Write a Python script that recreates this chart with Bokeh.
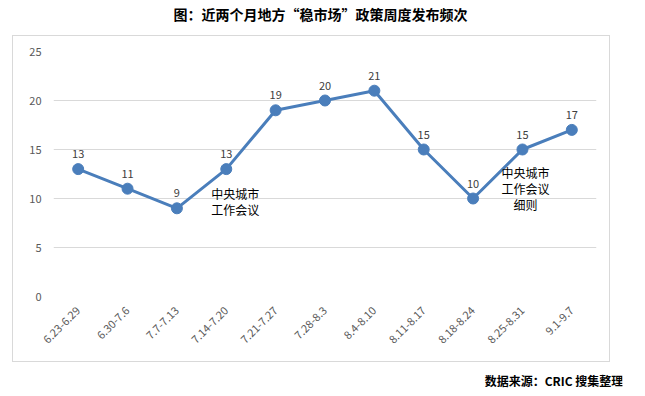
from bokeh.plotting import figure
from bokeh.models import ColumnDataSource, FactorRange, Range1d
from bokeh.layouts import column
from bokeh.core.properties import value
from bokeh.embed import file_html
from bokeh.resources import INLINE
import math

# ---- data ----
categories = ["6.23-6.29", "6.30-7.6", "7.7-7.13", "7.14-7.20", "7.21-7.27",
              "7.28-8.3", "8.4-8.10", "8.11-8.17", "8.18-8.24", "8.25-8.31", "9.1-9.7"]
counts = [13, 11, 9, 13, 19, 20, 21, 15, 10, 15, 17]
y_ticks = [0, 5, 10, 15, 20, 25]

note_cats = ["7.14-7.20", "8.25-8.31"]
note_texts = ["中央城市\n工作会议", "中央城市\n工作会议\n细则"]
note_y = [11.4, 13.55]
note_dx = [9, 3]

title_text = "图：近两个月地方“稳市场”政策周度发布频次"
source_text = "数据来源：CRIC 搜集整理"

FONT = "Noto Sans CJK SC"
BLUE = "#4a7ebb"
GRID = "#d9d9d9"

# ---- title figure ----
t = figure(width=629, height=35, x_range=Range1d(0, 629), y_range=Range1d(0, 35),
           toolbar_location=None, output_backend="svg", min_border=0,
           x_axis_location=None, y_axis_location=None)
t.grid.visible = False
t.outline_line_color = None
t.text(x=[137], y=[22], text=[title_text], text_font=value(FONT),
       text_font_size="14px", text_font_style="bold", text_align="left",
       text_baseline="middle", text_color="#000000")

# ---- main chart ----
src = ColumnDataSource(dict(cat=categories, v=counts, lab=[str(c) for c in counts]))
nsrc = ColumnDataSource(dict(cat=note_cats, y=note_y, t=note_texts, dx=note_dx))

p = figure(width=598, height=327, x_range=FactorRange(*categories, range_padding=0),
           y_range=Range1d(0, 25), toolbar_location=None, output_backend="svg",
           min_border_left=40, min_border_right=15, min_border_top=15, min_border_bottom=67,
           margin=(0, 0, 0, 4), styles={"border": "1px solid #d9d9d9"})
p.outline_line_color = None
p.background_fill_color = "white"

p.yaxis.ticker = y_ticks
p.yaxis.axis_line_color = None
p.yaxis.major_tick_line_color = None
p.yaxis.minor_tick_line_color = None
p.yaxis.major_label_standoff = 6
p.yaxis.major_label_text_font = FONT
p.yaxis.major_label_text_font_size = "11px"
p.yaxis.major_label_text_color = "#595959"

p.xaxis.axis_line_color = None
p.xaxis.major_tick_line_color = None
p.xaxis.major_label_orientation = math.pi / 4
p.xaxis.major_label_standoff = 6
p.xaxis.major_label_text_font = FONT
p.xaxis.major_label_text_font_size = "11px"
p.xaxis.major_label_text_color = "#595959"

p.xgrid.grid_line_color = None
p.ygrid.grid_line_color = GRID
p.ygrid.grid_line_width = 1

p.line("cat", "v", source=src, line_color=BLUE, line_width=3)
p.scatter("cat", "v", source=src, size=11, fill_color=BLUE, line_color=BLUE)
p.text("cat", "v", text="lab", source=src, text_font=value(FONT), text_font_size="11px",
       text_color="#404040", text_align="center", text_baseline="bottom", y_offset=-11)
p.text("cat", "y", text="t", source=nsrc, text_font=value(FONT), text_font_size="12px",
       text_color="#000000", text_align="center", text_baseline="top", x_offset="dx",
       text_line_height=0.95)

# ---- footer figure ----
f = figure(width=629, height=28, x_range=Range1d(0, 629), y_range=Range1d(0, 28),
           toolbar_location=None, output_backend="svg", min_border=0,
           x_axis_location=None, y_axis_location=None)
f.grid.visible = False
f.outline_line_color = None
f.text(x=[478], y=[10], text=[source_text], text_font=value(FONT),
       text_font_size="12px", text_font_style="bold", text_align="left",
       text_baseline="middle", text_color="#000000")

layout = column(t, p, f, spacing=0, margin=(0, 0, 0, 8))
open("out.html", "w").write(file_html(layout, INLINE))
